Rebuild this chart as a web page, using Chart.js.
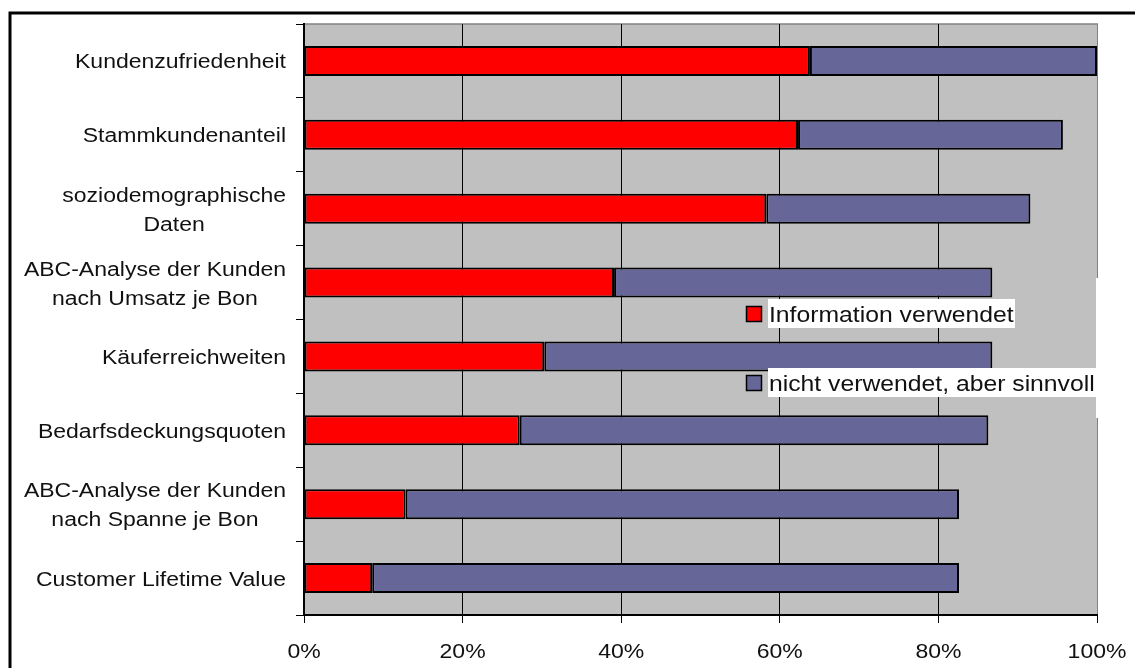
<!DOCTYPE html>
<html>
<head>
<meta charset="utf-8">
<script src="https://cdn.jsdelivr.net/npm/chart.js@4/dist/chart.umd.min.js"></script>
<style>
  html, body { margin: 0; padding: 0; background: #fff; }
  #wrap { width: 1135px; height: 668px; }
</style>
</head>
<body>
<div id="wrap"><canvas id="myChart" width="1135" height="668"></canvas></div>
<script>
// Kategorien (von oben nach unten)
const categories = [
  'Kundenzufriedenheit',
  'Stammkundenanteil',
  ['soziodemographische', 'Daten'],
  ['ABC-Analyse der Kunden', 'nach Umsatz je Bon'],
  'Käuferreichweiten',
  'Bedarfsdeckungsquoten',
  ['ABC-Analyse der Kunden', 'nach Spanne je Bon'],
  'Customer Lifetime Value'
];

// Anteile in %
const usedValues = [63.8, 62.3, 58.3, 39.1, 30.3, 27.2, 12.8, 8.6];
const usefulValues = [36.2, 33.4, 33.3, 47.7, 56.5, 59.1, 69.8, 74.0];

const seriesNames = ['Information verwendet', 'nicht verwendet, aber sinnvoll'];
const xTicks = [0, 20, 40, 60, 80, 100];

const RED = '#FF0000';
const BLUE = '#666699';
const FONT = '"Liberation Sans", Arial, sans-serif';
const SX = 1.15; // Text ist im Original etwas breit gezogen

function drawText(ctx, str, x, y, align, size) {
  ctx.save();
  ctx.font = size + 'px ' + FONT;
  ctx.textBaseline = 'middle';
  ctx.textAlign = 'left';
  ctx.fillStyle = '#111';
  const w = ctx.measureText(str).width * SX;
  const left = align === 'right' ? x - w : align === 'center' ? x - w / 2 : x;
  ctx.translate(left, y);
  ctx.scale(SX, 1);
  ctx.fillText(str, 0, 0);
  ctx.restore();
  return w;
}

function textWidth(ctx, str, size) {
  ctx.save();
  ctx.font = size + 'px ' + FONT;
  const w = ctx.measureText(str).width * SX;
  ctx.restore();
  return w;
}

const excelLook = {
  id: 'excelLook',
  beforeDraw(chart) {
    const { ctx, chartArea: a } = chart;
    ctx.save();
    ctx.fillStyle = '#fff';
    ctx.fillRect(0, 0, chart.width, chart.height);
    // Plotfläche grau
    ctx.fillStyle = '#C0C0C0';
    ctx.fillRect(a.left, a.top, a.right - a.left, a.bottom - a.top);
    // oberer Rand der Plotfläche
    ctx.strokeStyle = '#808080';
    ctx.lineWidth = 1.5;
    ctx.beginPath();
    ctx.moveTo(a.left, a.top);
    ctx.lineTo(a.right + 1, a.top);
    ctx.stroke();
    ctx.restore();
  },
  afterDraw(chart) {
    const { ctx, chartArea: a, scales } = chart;
    ctx.save();

    // Kategorie-Beschriftungen: Block rechtsbündig, Zeilen zentriert
    const right = 286;
    const lineH = 29;
    categories.forEach((lab, i) => {
      const lines = Array.isArray(lab) ? lab : [lab];
      const yc = scales.y.getPixelForValue(i) + 2;
      const widest = Math.max(...lines.map(l => textWidth(ctx, l, 20)));
      const cx = right - widest / 2;
      lines.forEach((l, j) => {
        const y = yc + (j - (lines.length - 1) / 2) * lineH;
        drawText(ctx, l, cx, y, 'center', 20);
      });
    });

    // x-Achsen-Beschriftungen
    xTicks.forEach(v => {
      drawText(ctx, v + '%', scales.x.getPixelForValue(v), 652, 'center', 20);
    });

    // Legende
    ctx.fillStyle = '#fff';
    ctx.fillRect(a.right - 1, 278, chart.width - a.right + 1, 140);
    const items = [
      { name: seriesNames[0], color: RED, y: 313.5, boxR: 1015 },
      { name: seriesNames[1], color: BLUE, y: 382.5, boxR: a.right }
    ];
    items.forEach(it => {
      ctx.fillStyle = '#fff';
      ctx.fillRect(768, it.y - 14.5, it.boxR - 768, 29);
      ctx.fillStyle = it.color;
      ctx.fillRect(746.5, it.y - 7, 15, 15);
      ctx.strokeStyle = '#000';
      ctx.lineWidth = 1.5;
      ctx.strokeRect(746.5, it.y - 7, 15, 15);
      drawText(ctx, it.name, 769, it.y + 3, 'left', 21.5);
    });

    // äußerer Rahmen
    ctx.strokeStyle = '#000';
    ctx.lineWidth = 3;
    ctx.strokeRect(10, 13, 2000, 2000);
    ctx.restore();
  }
};

new Chart(document.getElementById('myChart'), {
  type: 'bar',
  data: {
    labels: categories,
    datasets: [
      {
        label: seriesNames[0],
        data: usedValues,
        backgroundColor: RED,
        borderColor: '#000',
        borderWidth: 2,
        borderSkipped: false
      },
      {
        label: seriesNames[1],
        data: usefulValues,
        backgroundColor: BLUE,
        borderColor: '#000',
        borderWidth: 2,
        borderSkipped: false
      }
    ]
  },
  options: {
    indexAxis: 'y',
    responsive: false,
    animation: false,
    categoryPercentage: 1,
    barPercentage: 0.405,
    layout: { padding: { top: 24, right: 38, left: 0, bottom: 0 } },
    plugins: {
      legend: { display: false },
      tooltip: { enabled: false }
    },
    scales: {
      x: {
        stacked: true,
        min: 0,
        max: 100,
        afterFit: s => { s.height = 53; },
        afterBuildTicks: s => { s.ticks = xTicks.map(v => ({ value: v })); },
        ticks: { color: 'transparent', font: { size: 20 } },
        grid: {
          color: c => (c.tick && c.tick.value === 100 ? '#808080' : '#000'),
          lineWidth: 1,
          tickLength: 8,
          tickColor: '#000'
        },
        border: { color: '#000', width: 2 }
      },
      y: {
        stacked: true,
        offset: true,
        afterFit: s => { s.width = 304; },
        ticks: { color: 'transparent', font: { size: 20 } },
        grid: {
          offset: true,
          drawOnChartArea: false,
          drawTicks: true,
          tickLength: 8,
          tickColor: '#000'
        },
        border: { color: '#000', width: 2 }
      }
    }
  },
  plugins: [excelLook]
});
</script>
</body>
</html>
